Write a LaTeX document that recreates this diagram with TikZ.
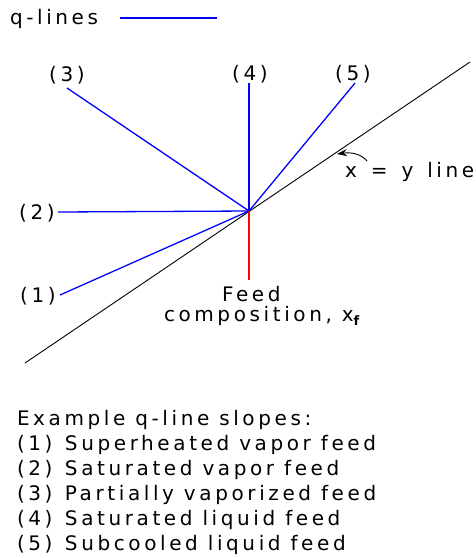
\documentclass[tikz,border=0pt]{standalone}
\usepackage{fontspec}
\setmainfont{DejaVu Sans}[LetterSpace=18]
\usetikzlibrary{arrows.meta}
\begin{document}
\begin{tikzpicture}[x=1pt,y=-1pt,
  every node/.style={inner sep=0pt, outer sep=0pt, font=\fontsize{20}{20}\selectfont},
  qline/.style={blue, line width=1.3pt},
  feedline/.style={red, line width=1.3pt},
  diag/.style={black, line width=0.9pt},
  txt/.style={anchor=base west},
  lab/.style={anchor=center}]
\useasboundingbox (0,0) rectangle (476,558);
% key point
\coordinate (P) at (249,211);
% legend
\node[txt] (leg) at (10,24) {q-lines};
\coordinate (legA) at (120,18);
\coordinate (legB) at (217,18);
\draw[qline] (legA) -- (legB);
% x = y line
\coordinate (D1) at (25,363);
\coordinate (D2) at (470,62);
\draw[diag] (D1) -- (D2);
% q-line ends
\coordinate (E1) at (60,295);
\coordinate (E2) at (58,212);
\coordinate (E3) at (67,88);
\coordinate (E4) at (249,83);
\coordinate (E5) at (355,83);
\coordinate (EF) at (249,280);
\draw[qline] (P) -- (E1);
\draw[qline] (P) -- (E2);
\draw[qline] (P) -- (E3);
\draw[qline] (P) -- (E4);
\draw[qline] (P) -- (E5);
\draw[feedline] (P) -- (EF);
% labels
\node[lab] (L1) at (38,296) {(1)};
\node[lab] (L2) at (37,213) {(2)};
\node[lab] (L3) at (67,75) {(3)};
\node[lab] (L4) at (250,74) {(4)};
\node[lab] (L5) at (353,74) {(5)};
\node[txt] (feed1) at (222,301) {Feed};
\node[txt] (feed2) at (164,321) {composition, x\raisebox{-4pt}{\fontsize{13}{13}\selectfont\bfseries f}};
\node[txt] (xy) at (345,177) {x\hspace{4pt} =\hspace{4pt} y\hspace{4pt} line};
\coordinate (arrT) at (367,161);
\coordinate (arrH) at (337,154);
\draw[black, line width=0.9pt, -{Stealth[length=10pt,width=7pt]}] (arrT) .. controls (361,154) and (352,152) .. (arrH);
% bottom text
\node[txt] (ex) at (17,425) {Example q-line slopes:};
\node[txt] (s1) at (17,450) {\makebox[48pt][l]{(1)}Superheated vapor feed};
\node[txt] (s2) at (17,475) {\makebox[48pt][l]{(2)}Saturated vapor feed};
\node[txt] (s3) at (17,500) {\makebox[48pt][l]{(3)}Partially vaporized feed};
\node[txt] (s4) at (17,525) {\makebox[48pt][l]{(4)}Saturated liquid feed};
\node[txt] (s5) at (17,550) {\makebox[48pt][l]{(5)}Subcooled liquid feed};
\end{tikzpicture}
\end{document}
